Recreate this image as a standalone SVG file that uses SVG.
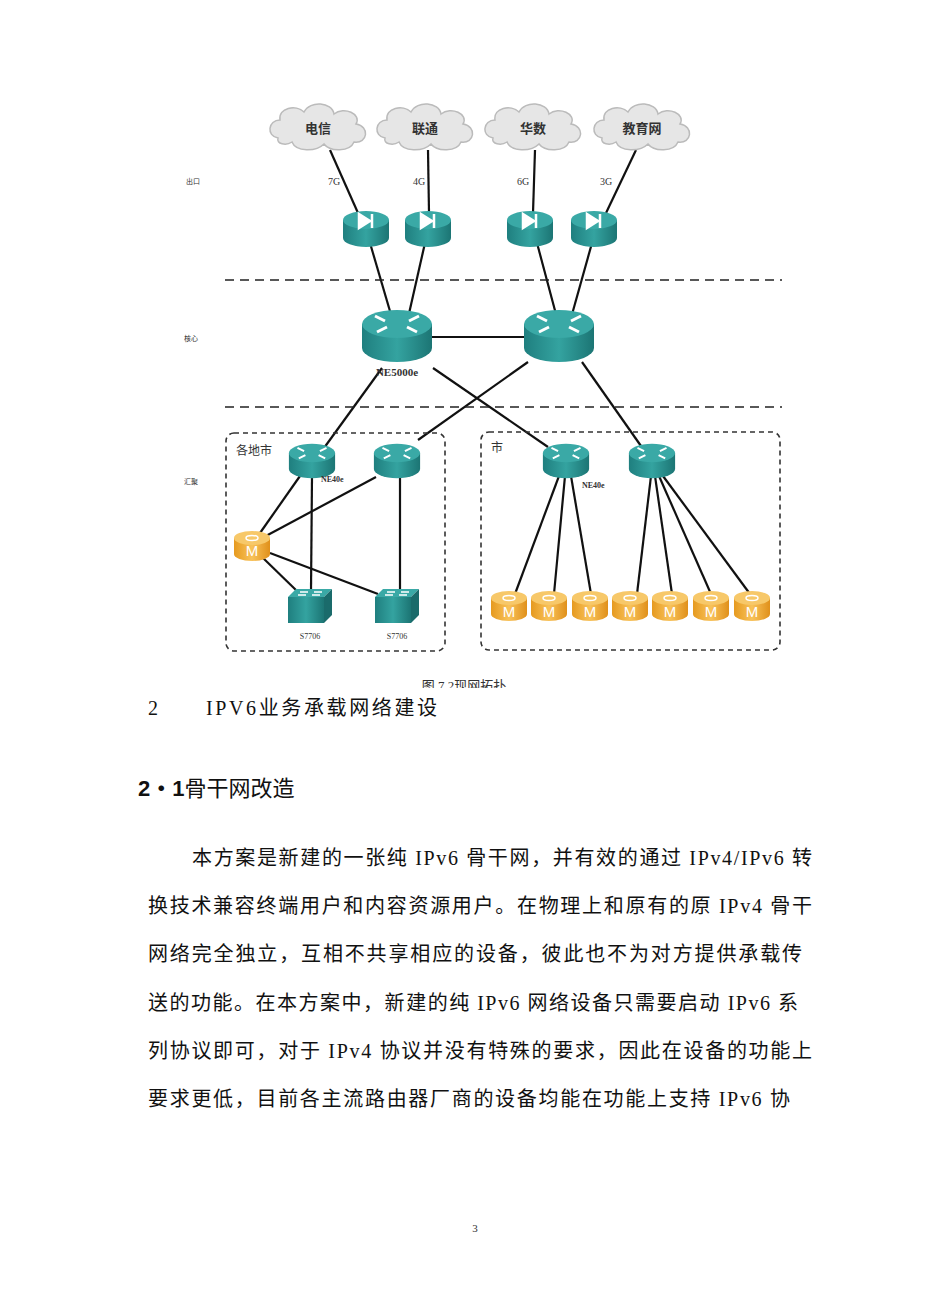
<svg xmlns="http://www.w3.org/2000/svg" width="950" height="1316" viewBox="0 0 950 1316">
<style>
.ln{stroke:#111;stroke-width:2.2;fill:none}
.dash{stroke:#222;stroke-width:1.4;stroke-dasharray:9,6;fill:none}
.box{stroke:#333;stroke-width:1.6;stroke-dasharray:5,4;fill:none}
.lbl{font-family:"Liberation Serif","Noto Sans CJK SC",serif;fill:#333}
.body{font-family:"Liberation Serif","Noto Sans CJK SC",serif;font-size:20px;fill:#111}
.cl{font-family:"Liberation Serif","Noto Sans CJK SC",serif;font-size:13px;font-weight:bold;fill:#333;text-anchor:middle}
.m{font-family:"Liberation Sans",sans-serif;font-size:15px;fill:#fff;text-anchor:middle}
</style>
<defs>
<linearGradient id="teal" x1="0" x2="1"><stop offset="0" stop-color="#1f7f7f"/><stop offset="0.5" stop-color="#34a3a0"/><stop offset="1" stop-color="#1c7574"/></linearGradient>
<linearGradient id="org" x1="0" x2="1"><stop offset="0" stop-color="#e69a1f"/><stop offset="0.5" stop-color="#f8c25a"/><stop offset="1" stop-color="#e0901a"/></linearGradient>
<g id="router">
<path d="M-35,-12 V12 A35,14 0 0 0 35,12 V-12 Z" fill="url(#teal)"/>
<ellipse cx="0" cy="-12" rx="35" ry="14" fill="#3aa9a6"/>
<path d="M-22,-20 l10,5 M-20,-4 l10,-5 M22,-20 l-10,5 M20,-4 l-10,-5" stroke="#fff" stroke-width="3"/>
</g>
<g id="fw">
<path d="M-23,-8 V10 A23,9 0 0 0 23,10 V-8 Z" fill="url(#teal)"/>
<ellipse cx="0" cy="-8" rx="23" ry="9" fill="#3aa9a6"/>
<path d="M-7,-14 L4,-7 L-7,0 Z M6,-14 V0" fill="#fff" stroke="#fff" stroke-width="2.5"/>
</g>
<g id="mdev">
<path d="M-18,-7 V9 A18,7 0 0 0 18,9 V-7 Z" fill="url(#org)"/>
<ellipse cx="0" cy="-7" rx="18" ry="7" fill="#f7c869"/>
<ellipse cx="0" cy="-7" rx="6" ry="2.5" fill="none" stroke="#fff" stroke-width="1.5"/>
</g>
<g id="sw">
<path d="M-22,-8 L-14,-16 H22 L22,-16 L14,-8 Z" fill="#3aa9a6"/>
<path d="M14,-8 L22,-16 V10 L14,18 Z" fill="#1a6b6b"/>
<rect x="-22" y="-8" width="36" height="26" fill="url(#teal)"/>
<path d="M-10,-13 h8 M4,-13 h8 M-12,-10 h8 M2,-10 h8" stroke="#fff" stroke-width="1.5"/>
</g>
<g id="cloud">
<path d="M-40,10 C-52,8 -50,-8 -38,-8 C-40,-20 -22,-24 -14,-16 C-8,-28 14,-26 16,-14 C26,-22 44,-14 38,-4 C52,-2 50,16 36,14 C32,24 12,24 6,16 C-2,24 -22,24 -26,14 C-32,18 -42,16 -40,10 Z" fill="#e6e6e6" stroke="#bbb" stroke-width="1.5"/>
</g>
</defs>

<g id="connectors">
<line class="ln" x1="330" y1="150" x2="358" y2="213"/>
<line class="ln" x1="428" y1="150" x2="429" y2="213"/>
<line class="ln" x1="535" y1="150" x2="533" y2="213"/>
<line class="ln" x1="636" y1="150" x2="606" y2="213"/>
<line class="ln" x1="370" y1="243" x2="392" y2="318"/>
<line class="ln" x1="425" y1="243" x2="408" y2="318"/>
<line class="ln" x1="537" y1="243" x2="557" y2="318"/>
<line class="ln" x1="592" y1="243" x2="571" y2="318"/>
<line class="ln" x1="432" y1="337" x2="525" y2="337"/>
<line class="ln" x1="382" y1="368" x2="324" y2="448"/>
<line class="ln" x1="433" y1="368" x2="548" y2="447"/>
<line class="ln" x1="528" y1="362" x2="418" y2="440"/>
<line class="ln" x1="582" y1="362" x2="641" y2="446"/>
<line class="ln" x1="300" y1="476" x2="260" y2="533"/>
<line class="ln" x1="312" y1="476" x2="311" y2="592"/>
<line class="ln" x1="376" y1="477" x2="264" y2="537"/>
<line class="ln" x1="400" y1="478" x2="400" y2="592"/>
<line class="ln" x1="262" y1="557" x2="298" y2="592"/>
<line class="ln" x1="270" y1="553" x2="378" y2="594"/>
<line class="ln" x1="559" y1="476" x2="515" y2="594"/>
<line class="ln" x1="565" y1="476" x2="554" y2="594"/>
<line class="ln" x1="571" y1="476" x2="591" y2="594"/>
<line class="ln" x1="651" y1="476" x2="637" y2="594"/>
<line class="ln" x1="655" y1="476" x2="672" y2="594"/>
<line class="ln" x1="659" y1="476" x2="711" y2="594"/>
<line class="ln" x1="663" y1="476" x2="750" y2="594"/>
</g>

<line class="dash" x1="225" y1="280" x2="782" y2="280"/>
<line class="dash" x1="225" y1="407" x2="782" y2="407"/>
<rect class="box" x="226" y="433" width="219" height="218" rx="8"/>
<rect class="box" x="481" y="432" width="299" height="218" rx="8"/>

<g id="cloud1"><use href="#cloud" transform="translate(318,128)"/><text class="cl" x="318" y="133">电信</text></g>
<g id="cloud2"><use href="#cloud" transform="translate(425,128)"/><text class="cl" x="425" y="133">联通</text></g>
<g id="cloud3"><use href="#cloud" transform="translate(533,128)"/><text class="cl" x="533" y="133">华数</text></g>
<g id="cloud4"><use href="#cloud" transform="translate(642,128)"/><text class="cl" x="642" y="133">教育网</text></g>

<g class="lbl" font-size="10">
<text x="328" y="185">7G</text><text x="413" y="185">4G</text><text x="517" y="185">6G</text><text x="600" y="185">3G</text>
</g>
<g id="fw1"><use href="#fw" transform="translate(366,228)"/></g>
<g id="fw2"><use href="#fw" transform="translate(428,228)"/></g>
<g id="fw3"><use href="#fw" transform="translate(530,228)"/></g>
<g id="fw4"><use href="#fw" transform="translate(594,228)"/></g>

<g id="core1"><use href="#router" transform="translate(397,336)"/><text class="lbl" x="397" y="376" font-size="11" font-weight="bold" text-anchor="middle">NE5000e</text></g>
<g id="core2"><use href="#router" transform="translate(559,336)"/></g>

<g id="agg1"><use href="#router" transform="translate(312,461) scale(0.66)"/></g>
<g id="agg2"><use href="#router" transform="translate(397,461) scale(0.66)"/></g>
<g id="agg3"><use href="#router" transform="translate(566,461) scale(0.66)"/></g>
<g id="agg4"><use href="#router" transform="translate(652,461) scale(0.66)"/></g>
<text class="lbl" x="236" y="455" font-size="12">各地市</text>
<text class="lbl" x="321" y="482" font-size="8" font-weight="bold">NE40e</text>
<text class="lbl" x="491" y="452" font-size="12">市</text>
<text class="lbl" x="582" y="488" font-size="8" font-weight="bold">NE40e</text>

<g id="mleft"><use href="#mdev" transform="translate(252,545)"/><text class="m" x="252" y="556">M</text></g>
<g id="sw1"><use href="#sw" transform="translate(310,605)"/><text class="lbl" x="310" y="639" font-size="8" text-anchor="middle">S7706</text></g>
<g id="sw2"><use href="#sw" transform="translate(397,605)"/><text class="lbl" x="397" y="639" font-size="8" text-anchor="middle">S7706</text></g>

<g id="m1"><use href="#mdev" transform="translate(509,605)"/><text class="m" x="509" y="617">M</text></g>
<g id="m2"><use href="#mdev" transform="translate(549,605)"/><text class="m" x="549" y="617">M</text></g>
<g id="m3"><use href="#mdev" transform="translate(590,605)"/><text class="m" x="590" y="617">M</text></g>
<g id="m4"><use href="#mdev" transform="translate(630,605)"/><text class="m" x="630" y="617">M</text></g>
<g id="m5"><use href="#mdev" transform="translate(670,605)"/><text class="m" x="670" y="617">M</text></g>
<g id="m6"><use href="#mdev" transform="translate(711,605)"/><text class="m" x="711" y="617">M</text></g>
<g id="m7"><use href="#mdev" transform="translate(752,605)"/><text class="m" x="752" y="617">M</text></g>

<g class="lbl" font-size="7" fill="#888">
<text x="186" y="184">出口</text><text x="184" y="341">核心</text><text x="184" y="484">汇聚</text>
</g>

<text class="lbl" x="464" y="690" font-size="13" text-anchor="middle" fill="#444">图 7  2现网拓扑</text>
<rect x="380" y="688" width="180" height="10" fill="#fff"/>

<text class="body" x="148" y="715" font-size="21">2</text>
<text class="body" x="206" y="715" font-size="21" textLength="231" lengthAdjust="spacing">IPV6业务承载网络建设</text>
<text x="138" y="796" font-family="'Liberation Sans','Noto Sans CJK SC',sans-serif" font-size="22" fill="#111"><tspan font-weight="bold">2・1</tspan>骨干网改造</text>

<text class="body" x="192" y="865" textLength="620" lengthAdjust="spacing">本方案是新建的一张纯 IPv6 骨干网，并有效的通过 IPv4/IPv6 转</text>
<text class="body" x="148" y="913" textLength="664" lengthAdjust="spacing">换技术兼容终端用户和内容资源用户。在物理上和原有的原 IPv4 骨干</text>
<text class="body" x="148" y="961" textLength="654" lengthAdjust="spacing">网络完全独立，互相不共享相应的设备，彼此也不为对方提供承载传</text>
<text class="body" x="148" y="1010" textLength="650" lengthAdjust="spacing">送的功能。在本方案中，新建的纯 IPv6 网络设备只需要启动 IPv6 系</text>
<text class="body" x="148" y="1058" textLength="664" lengthAdjust="spacing">列协议即可，对于 IPv4 协议并没有特殊的要求，因此在设备的功能上</text>
<text class="body" x="148" y="1106" textLength="642" lengthAdjust="spacing">要求更低，目前各主流路由器厂商的设备均能在功能上支持 IPv6 协</text>

<text class="lbl" x="475" y="1232" font-size="11" text-anchor="middle">3</text>
</svg>
